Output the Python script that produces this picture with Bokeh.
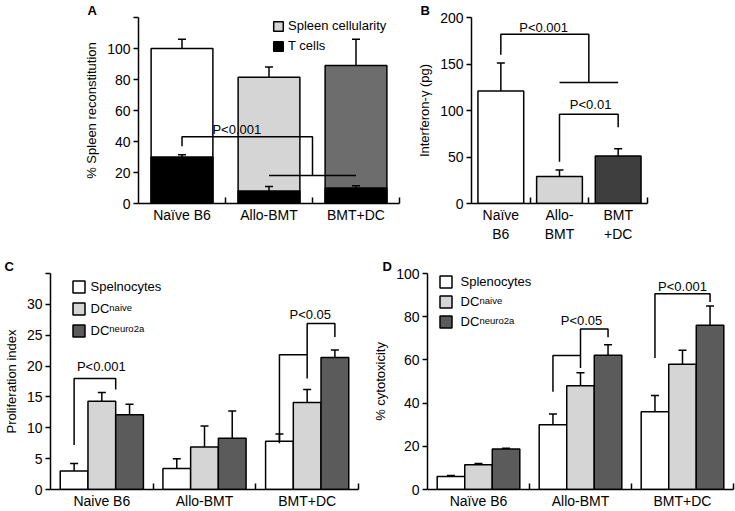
from bokeh.plotting import figure
from bokeh.models import (ColumnDataSource, Whisker, TeeHead, FixedTicker, Label,
                          Legend, LegendItem, Range1d)
from bokeh.layouts import column, row
from bokeh.embed import file_html
from bokeh.resources import INLINE

FONT = "Liberation Sans"

# ---------------- data ----------------
groups_a = ["Naïve B6", "Allo-BMT", "BMT+DC"]
groups_b = ["Naïve\nB6", "Allo-\nBMT", "BMT\n+DC"]
groups_c = ["Naive B6", "Allo-BMT", "BMT+DC"]
groups_d = ["Naïve B6", "Allo-BMT", "BMT+DC"]

# Panel A: % spleen reconstitution
a_cellularity = [100, 81.5, 89]
a_cellularity_err = [6, 6.5, 17]
a_tcells = [30, 8, 10]
a_tcells_err = [1.5, 3, 1.5]
a_ticks = [0, 20, 40, 60, 80, 100, 120]
a_bracket_y = [37, 43, 18]          # left leg start, top, joined pair level

# Panel B: interferon-gamma (pg)
b_values = [121, 29, 51]
b_err = [30, 7, 8]
b_ticks = [0, 50, 100, 150, 200]
b_bracket1_y = [160, 182, 130]
b_bracket2_y = [45, 96, 82]

# Panel C: proliferation index
c_splenocytes = [3.0, 3.4, 7.8]
c_splenocytes_err = [1.2, 1.6, 1.2]
c_dc_naive = [14.3, 6.9, 14.1]
c_dc_naive_err = [1.4, 3.4, 2.1]
c_dc_neuro2a = [12.1, 8.3, 21.4]
c_dc_neuro2a_err = [1.7, 4.4, 1.2]
c_ticks = [0, 5, 10, 15, 20, 25, 30, 35]
c_bracket1_y = [7.2, 18.0, 16.2]
c_bracket2_y = [7.5, 21.85, 18.0, 26.9, 24.7]

# Panel D: % cytotoxicity
d_splenocytes = [6.0, 30, 36]
d_splenocytes_err = [0.5, 5, 7.5]
d_dc_naive = [11.5, 48, 58]
d_dc_naive_err = [0.5, 6, 6.5]
d_dc_neuro2a = [18.8, 62.2, 76]
d_dc_neuro2a_err = [0.3, 4.8, 9]
d_ticks = [0, 20, 40, 60, 80, 100]
d_bracket1_y = [45.2, 62, 56.3, 74.3, 70.5]
d_bracket2_y = [60.9, 90.6, 86.8]

WHITE = "#ffffff"
LIGHT = "#d5d5d5"
DARK = "#5b5b5b"
MID_A = "#6d6d6d"
DARK_B = "#3e3e3e"


def make_fig(w, h, ml, mr, mt, mb, ymax, letter, letter_off):
    p = figure(width=w, height=h, x_range=Range1d(0, 3), y_range=Range1d(0, ymax),
               output_backend="svg", toolbar_location=None,
               min_border_left=ml, min_border_right=mr,
               min_border_top=mt, min_border_bottom=mb, title=letter)
    p.title.text_font = FONT
    p.title.text_font_size = "13px"
    p.title.text_font_style = "bold"
    p.title.text_color = "black"
    p.title.align = "left"
    p.title.offset = letter_off
    p.title.standoff = 0
    p.xgrid.visible = False
    p.ygrid.visible = False
    p.outline_line_color = None
    p.background_fill_color = "white"
    p.border_fill_color = "white"
    return p


def style_axes(p, labels, yticks, ylabel, hide=()):
    xa = p.xaxis[0]
    xa.ticker = FixedTicker(ticks=[0.5, 1.5, 2.5], minor_ticks=[1, 2, 3])
    xa.major_label_overrides = {0.5 + i: lab for i, lab in enumerate(labels)}
    xa.major_tick_in = 0
    xa.major_tick_out = 0
    xa.minor_tick_in = 6
    xa.minor_tick_out = 0
    xa.minor_tick_line_width = 1.5
    xa.minor_tick_line_color = "black"
    xa.axis_line_width = 1.5
    xa.axis_line_color = "black"
    xa.major_label_text_font = FONT
    xa.major_label_text_font_size = "14px"
    xa.major_label_text_color = "black"
    xa.major_label_standoff = 3
    ya = p.yaxis[0]
    ya.ticker = FixedTicker(ticks=yticks)
    ya.major_label_overrides = {t: "" for t in hide}
    ya.major_tick_in = 0
    ya.major_tick_out = 5
    ya.major_tick_line_width = 1.5
    ya.major_tick_line_color = "black"
    ya.minor_tick_line_color = None
    ya.axis_line_width = 1.5
    ya.axis_line_color = "black"
    ya.major_label_text_font = FONT
    ya.major_label_text_font_size = "14px"
    ya.major_label_text_color = "black"
    ya.major_label_standoff = 3
    ya.axis_label = ylabel
    ya.axis_label_text_font = FONT
    ya.axis_label_text_font_size = "13px"
    ya.axis_label_text_font_style = "normal"
    ya.axis_label_text_color = "black"
    ya.axis_label_standoff = 5


def add_err(p, xs, vals, errs):
    src = ColumnDataSource(dict(base=xs, lower=vals, upper=[v + e for v, e in zip(vals, errs)]))
    w = Whisker(base="base", lower="lower", upper="upper", source=src,
                lower_head=None, upper_head=TeeHead(size=8, line_width=1.5, line_color="black"),
                line_width=1.5, line_color="black", level="overlay")
    p.add_layout(w)


def txt(p, x, y, s, size="13px", align="center", baseline="middle"):
    p.add_layout(Label(x=x, y=y, text=s, text_font=FONT, text_font_size=size,
                       text_align=align, text_baseline=baseline, text_color="black"))


def brackets(p, xs_list, ys_list):
    p.multi_line(xs=xs_list, ys=ys_list, line_color="black", line_width=1.5)


centers = [0.5, 1.5, 2.5]

# ---------------- Panel A ----------------
pA = make_fig(410, 245, 138, 11, 17, 42, 120, "A", -51)
style_axes(pA, groups_a, a_ticks, "% Spleen reconstitution", hide=[120])
rA_total = pA.vbar(x=centers, top=a_cellularity, width=0.71,
                   fill_color=[WHITE, LIGHT, MID_A], line_color="black", line_width=1.5)
rA_t = pA.vbar(x=centers, top=a_tcells, width=0.71,
               fill_color="black", line_color="black", line_width=1.5)
add_err(pA, centers, a_cellularity, a_cellularity_err)
add_err(pA, centers, a_tcells, a_tcells_err)
y0, y1, y2 = a_bracket_y
brackets(pA, [[0.5, 0.5, 2.0, 2.0], [1.5, 2.5]], [[y0, y1, y1, y2], [y2, y2]])
txt(pA, 1.13, 47.7, "P<0.001")
legA = Legend(items=[LegendItem(label="Spleen cellularity", renderers=[rA_total], index=1),
                     LegendItem(label="T cells", renderers=[rA_t], index=0)],
              location=(134, 150), glyph_width=12, glyph_height=12, label_height=15,
              spacing=5, padding=0, margin=0, label_standoff=4,
              label_text_font=FONT, label_text_font_size="13px", label_text_color="black",
              border_line_color=None, background_fill_alpha=0)
pA.add_layout(legA)

# ---------------- Panel B ----------------
pB = make_fig(325, 245, 61, 88, 17, 42, 200, "B", -51)
style_axes(pB, groups_b, b_ticks, "Interferon-γ (pg)")
pB.vbar(x=centers, top=b_values, width=0.78,
        fill_color=[WHITE, LIGHT, DARK_B], line_color="black", line_width=1.5)
add_err(pB, centers, b_values, b_err)
u0, u1, u2 = b_bracket1_y
v0, v1, v2 = b_bracket2_y
brackets(pB, [[0.5, 0.5, 2.0, 2.0], [1.5, 2.5], [1.5, 1.5, 2.5, 2.5]],
         [[u0, u1, u1, u2], [u2, u2], [v0, v1, v1, v2]])
txt(pB, 1.23, 189, "P<0.001")
txt(pB, 2.03, 106, "P<0.01")

# ---------------- grouped panels ----------------
BW = 0.27
OFF = [-BW, 0.0, BW]


def grouped(p, series, errs):
    rs = []
    for k, (vals, col) in enumerate(zip(series, [WHITE, LIGHT, DARK])):
        xs = [c + OFF[k] for c in centers]
        rs.append(p.vbar(x=xs, top=vals, width=BW, fill_color=col,
                         line_color="black", line_width=1.5))
    for k, (vals, e) in enumerate(zip(series, errs)):
        xs = [c + OFF[k] for c in centers]
        add_err(p, xs, vals, e)
    return rs


def group_legend(p, rs, first, loc, spacing, standoff, sup_x, sup_ys):
    leg = Legend(items=[LegendItem(label=first, renderers=[rs[0]]),
                        LegendItem(label="DC", renderers=[rs[1]]),
                        LegendItem(label="DC", renderers=[rs[2]])],
                 location=loc, glyph_width=15, glyph_height=15, label_height=15,
                 spacing=spacing, padding=0, margin=0, label_standoff=standoff,
                 label_text_font=FONT, label_text_font_size="13px", label_text_color="black",
                 border_line_color=None, background_fill_alpha=0)
    p.add_layout(leg)
    txt(p, sup_x, sup_ys[0], "naive", size="9.5px", align="left", baseline="alphabetic")
    txt(p, sup_x, sup_ys[1], "neuro2a", size="9.5px", align="left", baseline="alphabetic")


# ---------------- Panel C ----------------
pC = make_fig(370, 266, 49, 12, 28, 20, 35, "C", -46)
style_axes(pC, groups_c, c_ticks, "Proliferation index", hide=[35])
rC = grouped(pC, [c_splenocytes, c_dc_naive, c_dc_neuro2a],
             [c_splenocytes_err, c_dc_naive_err, c_dc_neuro2a_err])
w_, l_, d_ = OFF
a0, a1, a2 = c_bracket1_y
b0, b1, b2, b3, b4 = c_bracket2_y
brackets(pC,
         [[0.5 + w_, 0.5 + w_, 0.5 + BW / 2, 0.5 + BW / 2],
          [2.5 + w_, 2.5 + w_, 2.5 + l_],
          [2.5 + l_, 2.5 + l_, 2.5 + d_, 2.5 + d_]],
         [[a0, a1, a1, a2], [b0, b1, b1], [b2, b3, b3, b4]])
txt(pC, 0.495, 19.86, "P<0.001")
txt(pC, 2.53, 28.3, "P<0.05")
group_legend(pC, rC, "Spelnocytes", (20.5, 151), 7, 5, 0.573, [29.54, 26.06])

# ---------------- Panel D ----------------
pD = make_fig(365, 266, 55, 2, 28, 20, 100, "D", -45)
style_axes(pD, groups_d, d_ticks, "% cytotoxicity")
rD = grouped(pD, [d_splenocytes, d_dc_naive, d_dc_neuro2a],
             [d_splenocytes_err, d_dc_naive_err, d_dc_neuro2a_err])
e0, e1, e2, e3, e4 = d_bracket1_y
f0, f1, f2 = d_bracket2_y
brackets(pD,
         [[1.5 + w_, 1.5 + w_, 1.5 + l_],
          [1.5 + l_, 1.5 + l_, 1.5 + d_, 1.5 + d_],
          [2.5 + w_, 2.5 + w_, 2.5 + d_, 2.5 + d_]],
         [[e0, e1, e1], [e2, e3, e3, e4], [f0, f1, f1, f2]])
txt(pD, 1.51, 78.1, "P<0.05")
txt(pD, 2.5, 94.0, "P<0.001")
group_legend(pD, rD, "Splenocytes", (10.5, 160.5), 5, 8, 0.51, [87.6, 78.4])

layout = column(row(pA, pB), row(pC, pD))
open("out.html", "w").write(file_html(layout, INLINE))
